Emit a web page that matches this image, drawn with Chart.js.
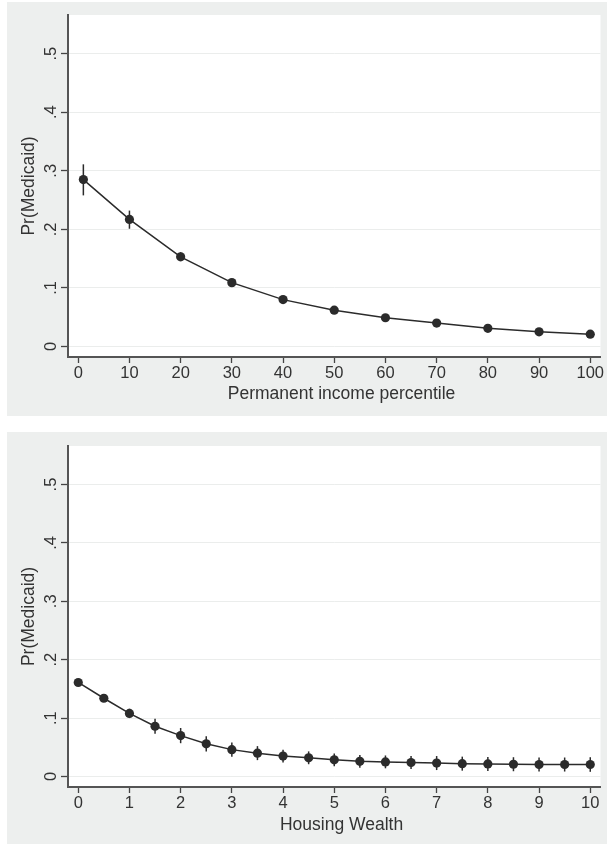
<!DOCTYPE html>
<html>
<head>
<meta charset="utf-8">
<script src="https://cdn.jsdelivr.net/npm/chart.js@4/dist/chart.umd.min.js"></script>
<style>
  html, body { margin: 0; padding: 0; background: #fff; }
  .panel { position: absolute; left: 7px; width: 600px; background: #edefee; }
  #top { top: 2px; height: 414px; }
  #bottom { top: 432px; height: 412px; }
</style>
</head>
<body>
<div class="panel" id="top"><canvas id="incomeChart" width="600" height="414"></canvas></div>
<div class="panel" id="bottom"><canvas id="wealthChart" width="600" height="412"></canvas></div>
<script>
// top panel: permanent income percentile
var incomePct = [1, 10, 20, 30, 40, 50, 60, 70, 80, 90, 100];
var incomePr  = [0.285, 0.217, 0.153, 0.109, 0.080, 0.062, 0.049, 0.040, 0.031, 0.025, 0.021];
var incomeLo  = [0.258, 0.201, 0.146, 0.104, 0.077, 0.059, 0.046, 0.037, 0.028, 0.022, 0.015];
var incomeHi  = [0.311, 0.232, 0.161, 0.114, 0.084, 0.066, 0.053, 0.044, 0.035, 0.028, 0.027];
var incomeTicks = [0, 10, 20, 30, 40, 50, 60, 70, 80, 90, 100];

// bottom panel: housing wealth
var wealth   = [0, 0.5, 1, 1.5, 2, 2.5, 3, 3.5, 4, 4.5, 5, 5.5, 6, 6.5, 7, 7.5, 8, 8.5, 9, 9.5, 10];
var wealthPr = [0.161, 0.134, 0.108, 0.086, 0.070, 0.056, 0.046, 0.040, 0.035, 0.032, 0.0285,
                0.026, 0.025, 0.024, 0.023, 0.022, 0.0215, 0.021, 0.0205, 0.0205, 0.0205];
var wealthLo = [0.156, 0.129, 0.100, 0.073, 0.057, 0.043, 0.034, 0.028, 0.024, 0.021, 0.0175,
                0.015, 0.014, 0.013, 0.011, 0.010, 0.0095, 0.009, 0.0085, 0.0085, 0.008];
var wealthHi = [0.166, 0.139, 0.116, 0.099, 0.083, 0.069, 0.058, 0.052, 0.046, 0.043, 0.0395,
                0.037, 0.036, 0.035, 0.035, 0.034, 0.0335, 0.033, 0.0325, 0.0325, 0.033];
var wealthTicks = [0, 1, 2, 3, 4, 5, 6, 7, 8, 9, 10];

var yTicks = [0, 0.1, 0.2, 0.3, 0.4, 0.5];
var yTickLabels = ['0', '.1', '.2', '.3', '.4', '.5'];

var FONT = "'Liberation Sans', Arial, Helvetica, sans-serif";
var INK = '#2b2b2b';

function makeChart(id, xs, ys, lo, hi, xTicks, xMin, xMax, xTitle, padTop, titlePadBottom, xHeight) {
  var plotBg = {
    id: 'plotBg',
    beforeDraw: function (chart) {
      var a = chart.chartArea, ctx = chart.ctx;
      ctx.save();
      ctx.fillStyle = '#ffffff';
      ctx.fillRect(a.left, a.top, a.right - a.left, a.bottom - a.top);
      ctx.restore();
    }
  };
  // vertical confidence intervals
  var errorBars = {
    id: 'errorBars',
    beforeDatasetsDraw: function (chart) {
      var ctx = chart.ctx, sx = chart.scales.x, sy = chart.scales.y;
      ctx.save();
      ctx.strokeStyle = INK;
      ctx.lineWidth = 1.5;
      for (var i = 0; i < xs.length; i++) {
        var px = sx.getPixelForValue(xs[i]);
        ctx.beginPath();
        ctx.moveTo(px, sy.getPixelForValue(lo[i]));
        ctx.lineTo(px, sy.getPixelForValue(hi[i]));
        ctx.stroke();
      }
      ctx.restore();
    }
  };

  return new Chart(document.getElementById(id), {
    type: 'scatter',
    data: {
      datasets: [{
        data: xs.map(function (x, i) { return { x: x, y: ys[i] }; }),
        showLine: true,
        tension: 0,
        borderColor: INK,
        borderWidth: 1.5,
        pointRadius: 4.6,
        pointBackgroundColor: INK,
        pointBorderWidth: 0,
        pointHoverRadius: 4.6
      }]
    },
    options: {
      responsive: false,
      animation: false,
      events: [],
      layout: { autoPadding: false, padding: { top: padTop, right: 6.5, bottom: 0, left: 0 } },
      plugins: { legend: { display: false }, tooltip: { enabled: false } },
      scales: {
        x: {
          type: 'linear',
          min: xMin,
          max: xMax,
          afterBuildTicks: function (axis) {
            axis.ticks = xTicks.map(function (v) { return { value: v }; });
          },
          afterFit: function (axis) { axis.height = xHeight; },
          ticks: {
            autoSkip: false,
            maxRotation: 0,
            padding: 1,
            color: '#333',
            font: { family: FONT, size: 16.5 },
            callback: function (v) { return String(v); }
          },
          grid: { drawOnChartArea: false, drawTicks: true, tickLength: 6, tickColor: '#444', tickWidth: 1.3 },
          border: { color: '#555', width: 2 },
          title: {
            display: true,
            // Stata centres the title on the whole graph, a little right of the axis centre
            text: '   ' + xTitle,
            color: '#333',
            font: { family: FONT, size: 17.5 },
            padding: { top: 0, bottom: titlePadBottom }
          }
        },
        y: {
          min: -0.018,
          max: 0.566,
          afterBuildTicks: function (axis) {
            axis.ticks = yTicks.map(function (v) { return { value: v }; });
          },
          afterFit: function (axis) { axis.width = 61; },
          ticks: {
            autoSkip: false,
            minRotation: 90,
            maxRotation: 90,
            crossAlign: 'center',
            padding: 3,
            color: '#333',
            font: { family: FONT, size: 16.5 },
            callback: function (v) {
              var k = yTicks.indexOf(Math.round(v * 10) / 10);
              return k >= 0 ? yTickLabels[k] : '';
            }
          },
          grid: { color: '#ebedec', lineWidth: 1, tickLength: 7, tickColor: '#444', tickWidth: 1.3 },
          border: { color: '#555', width: 2 },
          title: {
            display: true,
            text: 'Pr(Medicaid)',
            color: '#333',
            font: { family: FONT, size: 17.5 },
            padding: { top: 12, bottom: 0 }
          }
        }
      }
    },
    plugins: [plotBg, errorBars]
  });
}

makeChart('incomeChart', incomePct, incomePr, incomeLo, incomeHi, incomeTicks,
  -2, 102, 'Permanent income percentile', 13, 11.5, 59);
makeChart('wealthChart', wealth, wealthPr, wealthLo, wealthHi, wealthTicks,
  -0.2, 10.2, 'Housing Wealth', 14, 8.5, 57);
</script>
</body>
</html>
